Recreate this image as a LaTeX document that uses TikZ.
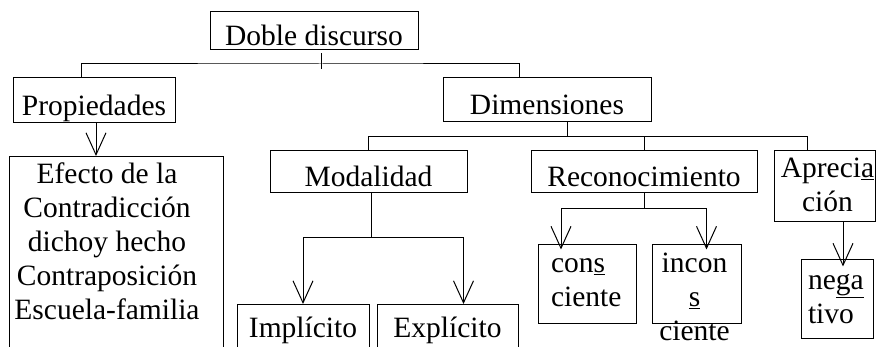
\documentclass[tikz,border=0pt]{standalone}
\usepackage{fontspec}
\setmainfont{Liberation Serif}
\usetikzlibrary{arrows.meta,positioning}

\begin{document}
\begin{tikzpicture}[x=1pt, y=1pt, line width=1pt, >={Straight Barb[length=22pt,width=20pt]},
  every node/.style={font=\fontsize{29.5}{34}\selectfont},
  box/.style={draw, inner sep=0pt},
  one/.style={box, text height=30pt, text depth=0pt},
  txt/.style={inner sep=0pt}]
\useasboundingbox (0,0) rectangle (876,347);
\clip (0,0) rectangle (876,347);

\node[one, minimum width=208pt, minimum height=38pt] (doble) at (314,316) {Doble discurso};
\node[one, minimum width=162pt, minimum height=45pt] (prop) at (94,246.5) {Propiedades};
\node[one, minimum width=208pt, minimum height=44pt] (dim) at (547,247) {Dimensiones};

% propiedades
\node[box, anchor=north, minimum width=214pt, minimum height=200pt] (efecto) at (116,191) {};
\node[txt, anchor=north, align=center] (efectotxt) at ([xshift=-9pt,yshift=-3pt]efecto.north)
  {Efecto de la\strut\\Contradicción\\dichoy hecho\\Contraposición\\Escuela-familia};

% dimensiones
\node[one, minimum width=197pt, minimum height=42pt] (modal) at (368.5,175) {Modalidad};
\node[one, minimum width=226pt, minimum height=42pt] (recon) at (644,175) {Reconocimiento};
\node[box, minimum width=101pt, minimum height=71pt] (aprec) at (824.5,160.5) {};
\node[txt, anchor=north, align=center] (aprectxt) at ([xshift=3pt,yshift=-3pt]aprec.north)
  {Apreci\underline{a}\strut\\ción};

\node[one, anchor=north, minimum width=132pt, minimum height=46pt, text height=20pt] (implic) at (303,43) {Implícito};
\node[one, anchor=north, minimum width=141pt, minimum height=46pt, text height=20pt] (explic) at (447.5,43) {Explícito};

\node[box, minimum width=98pt, minimum height=79pt] (consc) at (587,62.5) {};
\node[txt, anchor=north west, align=left] (consctxt) at ([xshift=13pt,yshift=-4pt]consc.north west)
  {con\underline{s}\strut\\ciente};
\node[box, minimum width=89pt, minimum height=79pt] (incons) at (696.5,62.5) {};
\node[txt, anchor=north, align=center] (inconstxt) at ([xshift=-2pt,yshift=-4pt]incons.north)
  {incon\strut\\\underline{s}\\ciente};
\node[box, minimum width=72pt, minimum height=79pt] (negat) at (837,47.5) {};
\node[txt, anchor=north west, align=left] (negattxt) at ([xshift=7pt,yshift=-6pt]negat.north west)
  {ne\underline{ga}\strut\\tivo};

% top split
\coordinate (dsplit) at (321,283);
\draw ([xshift=7pt,yshift=-3pt]doble.south) -- ([xshift=7pt,yshift=-19pt]doble.south);
\draw ([xshift=-13pt]prop.north) |- (dsplit) -| ([xshift=-28pt]dim.north);
\coordinate (pa) at ([xshift=2pt]prop.south);
\draw[->] (pa) -- (pa |- efecto.north);

% dimensiones split
\draw ([xshift=20pt]dim.south) -- ++(0,-14) coordinate (dsp);
\draw (modal.north) |- (dsp) -| ([xshift=-17pt]aprec.north);
\draw (recon.north) -- (recon.north |- dsp);

% modalidad split
\draw ([xshift=3pt]modal.south) -- ++(0,-44) coordinate (msp);
\coordinate (ea) at ([xshift=16pt]explic.north);
\draw[->] (msp) -| (implic.north);
\draw[->] (msp) -| (ea);

% reconocimiento split
\draw (recon.south) -- ++(0,-15) coordinate (rsp);
\coordinate (ca) at ([xshift=-26pt,yshift=-5pt]consc.north);
\coordinate (ia) at ([xshift=10pt,yshift=-5pt]incons.north);
\draw[->] (rsp) -| (ca);
\draw[->] (rsp) -| (ia);

% apreciacion
\coordinate (aa) at ([xshift=18.5pt]aprec.south);
\coordinate (na) at ([xshift=6pt,yshift=-7pt]negat.north);
\draw[->] (aa) -- (na);
\end{tikzpicture}
\end{document}
